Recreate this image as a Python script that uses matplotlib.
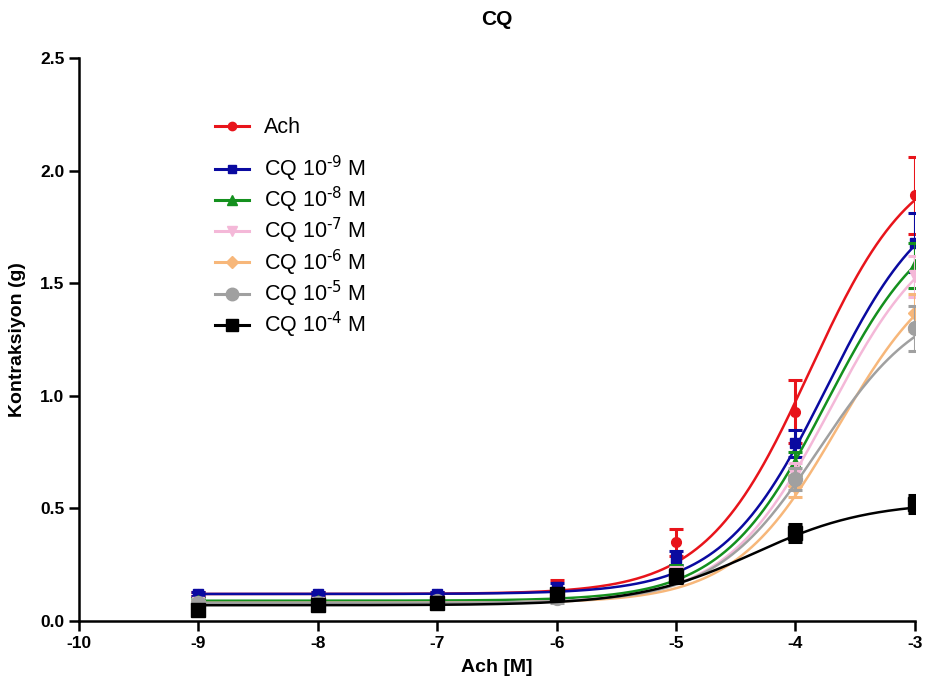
import numpy as np
import matplotlib
matplotlib.use("Agg")
import matplotlib.pyplot as plt

plt.rcParams['font.family'] = ['Liberation Sans', 'DejaVu Sans']
plt.rcParams['mathtext.default'] = 'regular'
plt.rcParams['axes.unicode_minus'] = False

# Ach concentrations (log M)
log_ach = [-9, -8, -7, -6, -5, -4, -3]

labels = ['Ach', r'CQ 10$^{\text{-9}}$ M', r'CQ 10$^{\text{-8}}$ M', r'CQ 10$^{\text{-7}}$ M',
          r'CQ 10$^{\text{-6}}$ M', r'CQ 10$^{\text{-5}}$ M', r'CQ 10$^{\text{-4}}$ M']
colors = ['#e8141b', '#0a0aa0', '#14901e', '#f4b8d8', '#f7b77a', '#a0a0a0', '#000000']
markers = ['o', 's', '^', 'v', 'D', 'o', 's']
msizes = [7, 7, 8, 8, 7, 10, 10]

# mean contraction (g)
ach_mean = [0.12, 0.12, 0.12, 0.16, 0.35, 0.93, 1.89]
cq9_mean = [0.12, 0.12, 0.12, 0.15, 0.28, 0.79, 1.68]
cq8_mean = [0.09, 0.09, 0.09, 0.12, 0.22, 0.70, 1.58]
cq7_mean = [0.08, 0.08, 0.08, 0.11, 0.21, 0.65, 1.53]
cq6_mean = [0.08, 0.08, 0.08, 0.11, 0.20, 0.60, 1.37]
cq5_mean = [0.08, 0.08, 0.09, 0.10, 0.20, 0.63, 1.30]
cq4_mean = [0.05, 0.07, 0.08, 0.12, 0.20, 0.39, 0.52]

# SEM
ach_sem = [0.01, 0.01, 0.01, 0.02, 0.06, 0.14, 0.17]
cq9_sem = [0.01, 0.01, 0.01, 0.02, 0.03, 0.06, 0.13]
cq8_sem = [0.01, 0.01, 0.01, 0.01, 0.03, 0.05, 0.10]
cq7_sem = [0.01, 0.01, 0.01, 0.01, 0.03, 0.05, 0.09]
cq6_sem = [0.01, 0.01, 0.01, 0.01, 0.03, 0.05, 0.08]
cq5_sem = [0.01, 0.01, 0.01, 0.02, 0.03, 0.05, 0.10]
cq4_sem = [0.02, 0.02, 0.02, 0.02, 0.03, 0.04, 0.04]

# sigmoidal fit parameters: bottom, top, logEC50, hill slope
fit_bottom = [0.12, 0.12, 0.09, 0.08, 0.08, 0.08, 0.07]
fit_top = [2.10, 1.95, 1.85, 1.80, 1.65, 1.45, 0.53]
fit_logec50 = [-3.88, -3.74, -3.74, -3.71, -3.64, -3.80, -4.35]
fit_hill = [1.0, 1.0, 1.0, 1.0, 1.0, 1.0, 0.9]

means = [ach_mean, cq9_mean, cq8_mean, cq7_mean, cq6_mean, cq5_mean, cq4_mean]
sems = [ach_sem, cq9_sem, cq8_sem, cq7_sem, cq6_sem, cq5_sem, cq4_sem]

fig = plt.figure(figsize=(9.25, 6.91), dpi=100)
ax = fig.add_axes([0.0854, 0.1013, 0.9036, 0.8147])

xfit = np.linspace(-9, -3, 300)
handles = []
for i in range(len(labels)):
    b, t, e, h = fit_bottom[i], fit_top[i], fit_logec50[i], fit_hill[i]
    yfit = b + (t - b) / (1 + 10 ** ((e - xfit) * h))
    ax.plot(xfit, yfit, color=colors[i], lw=1.8, zorder=2 + i)
    ax.errorbar(log_ach, means[i], yerr=sems[i], fmt='none', ecolor=colors[i],
                elinewidth=2.2, capsize=5, capthick=2.2, zorder=2 + i)
    ax.plot(log_ach, means[i], ls='none', marker=markers[i], ms=msizes[i],
            color=colors[i], zorder=3 + i)
    # legend proxy
    hd, = ax.plot([], [], color=colors[i], lw=2.2, marker=markers[i],
                  ms=msizes[i] - 1, label=labels[i])
    handles.append(hd)

ax.set_xlim(-10, -3)
ax.set_ylim(0, 2.5)
ax.set_xticks(range(-10, -2))
ax.set_yticks([0.0, 0.5, 1.0, 1.5, 2.0, 2.5])
ax.set_yticklabels(['0.0', '0.5', '1.0', '1.5', '2.0', '2.5'])
for s in ['top', 'right']:
    ax.spines[s].set_visible(False)
for s in ['left', 'bottom']:
    ax.spines[s].set_linewidth(1.8)
ax.tick_params(direction='out', width=1.8, length=7, labelsize=12.5)
for lab in ax.get_xticklabels() + ax.get_yticklabels():
    lab.set_fontweight('bold')

ax.set_xlabel('Ach [M]', fontsize=14, fontweight='bold', labelpad=6)
ax.set_ylabel('Kontraksiyon (g)', fontsize=14, fontweight='bold', labelpad=10)
ax.set_title('CQ', fontsize=15, fontweight='bold', pad=24)

leg_opts = dict(loc='upper left', frameon=False, fontsize=15.5, handlelength=1.55,
                handletextpad=0.7, borderpad=0, borderaxespad=0, labelspacing=0.05)
leg1 = ax.legend(handles=handles[:1], bbox_to_anchor=(0.163, 0.895), **leg_opts)
ax.add_artist(leg1)
ax.legend(handles=handles[1:], bbox_to_anchor=(0.163, 0.83), **leg_opts)

fig.savefig('out.png', dpi=100)
